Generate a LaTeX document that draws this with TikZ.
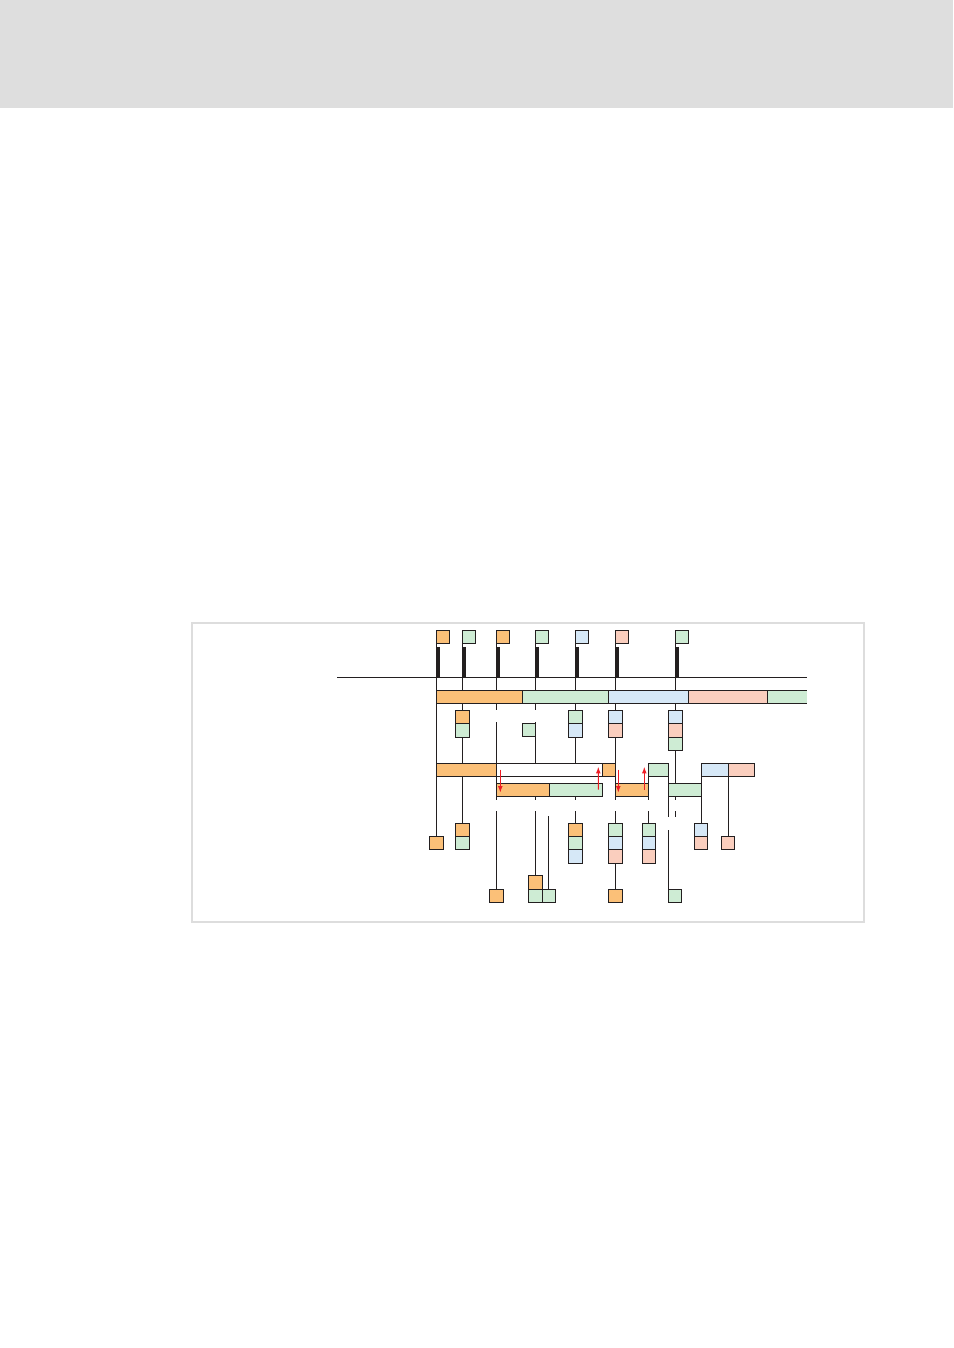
\documentclass[tikz,border=0pt]{standalone}
\usepackage{xcolor}
\usepackage{tikz}
\usetikzlibrary{arrows.meta,positioning,calc,fit}

\definecolor{ink}{RGB}{35,31,32}
\definecolor{orng}{RGB}{251,192,120}
\definecolor{grn}{RGB}{206,236,212}
\definecolor{blu}{RGB}{214,232,247}
\definecolor{pnk}{RGB}{250,206,190}
\definecolor{hdr}{RGB}{222,222,222}
\definecolor{frm}{RGB}{221,221,221}
\definecolor{arr}{RGB}{237,28,36}

\begin{document}
\begin{tikzpicture}[
    x=0.75pt, y=-0.75pt,
    cell/.style={draw=ink, line width=0.75pt, minimum width=10pt, minimum height=10pt, inner sep=0pt, outer sep=0pt},
    seg/.style={draw=ink, line width=0.75pt, inner sep=0pt, outer sep=0pt},
    wire/.style={draw=ink, line width=0.75pt},
    bar/.style={draw=ink, line width=2.6pt},
    flow/.style={-{Latex[length=5pt,width=3.6pt]}, draw=arr, line width=0.8pt}
]
\useasboundingbox (0,0) rectangle (953,1348);

% Header band and frame
\fill[hdr] (0,0) rectangle (953,108);
\draw[frm, line width=1.5pt] (192,623) rectangle (864,922);

% Gap levels
\coordinate (gapA) at (0,710);
\coordinate (gapB) at (0,722);
\coordinate (gapC) at (0,800);
\coordinate (gapD) at (0,811);
\coordinate (gapE) at (0,817);
\coordinate (gapF) at (0,830);
\coordinate (gapG) at (0,816);

% Axis
\coordinate (axL) at (337,677);
\coordinate (axR) at (806.7,677);
\draw[wire] (axL) -- (axR);

% Top markers
\node[cell, fill=orng] (t1) at (443.2,637.3) {};
\node[cell, fill=grn] (t2) at (469.2,637.3) {};
\node[cell, fill=orng] (t3) at (503.2,637.3) {};
\node[cell, fill=grn] (t4) at (542.2,637.3) {};
\node[cell, fill=blu] (t5) at (582.2,637.3) {};
\node[cell, fill=pnk] (t6) at (622.2,637.3) {};
\node[cell, fill=grn] (t7) at (682.2,637.3) {};

% Row 1
\node[seg, fill=orng, fit={(436.5,690.3) (522.3,703.3)}] (r1a) {};
\node[seg, fill=grn, fit={(522.3,690.3) (608.7,703.3)}] (r1b) {};
\node[seg, fill=blu, fit={(608.7,690.3) (688.7,703.3)}] (r1c) {};
\node[seg, fill=pnk, fit={(688.7,690.3) (767.3,703.3)}] (r1d) {};
\node[seg, draw=none, fill=grn, fit={(767.3,690.3) (806.7,703.3)}] (r1e) {};
\draw[wire] (r1e.north east) -- (r1e.north west) -- (r1e.south west) -- (r1e.south east);

% Row 2
\node[cell, fill=orng] (s2a) at (462.5,717) {};
\node[cell, fill=grn, below=0pt of s2a] (s2b) {};
\node[cell, fill=grn] (s4) at (528.8,730.3) {};
\node[cell, fill=grn] (s5a) at (575.5,717) {};
\node[cell, fill=blu, below=0pt of s5a] (s5b) {};
\node[cell, fill=blu] (s6a) at (615.5,717) {};
\node[cell, fill=pnk, below=0pt of s6a] (s6b) {};
\node[cell, fill=blu] (s7a) at (675.5,717) {};
\node[cell, fill=pnk, below=0pt of s7a] (s7b) {};
\node[cell, fill=grn, below=0pt of s7b] (s7c) {};

% Row 3
\node[seg, fill=orng, fit={(436.5,763.3) (496.5,776)}] (r3a) {};
\node[seg, fill=white, fit={(496.5,763.3) (602.7,776)}] (r3b) {};
\node[seg, fill=orng, fit={(602.7,763.3) (615.5,776)}] (r3c) {};
\node[seg, fill=grn, fit={(648.7,763.3) (668.3,776)}] (r3d) {};
\node[seg, fill=blu, fit={(701.3,763.3) (728.3,776)}] (r3e) {};
\node[seg, fill=pnk, fit={(728.3,763.3) (754.3,776)}] (r3f) {};

% Row 4
\node[seg, fill=orng, fit={(496.5,783.3) (549.3,796)}] (r4a) {};
\node[seg, fill=grn, fit={(549.3,783.3) (602.3,796)}] (r4b) {};
\node[seg, fill=orng, fit={(615.5,783.3) (648.7,796)}] (r4c) {};
\node[seg, fill=grn, fit={(668.3,783.3) (701.3,796)}] (r4d) {};

% Row 5
\node[cell, fill=orng] (u1) at (436.5,843.1) {};
\node[cell, fill=orng] (u2a) at (462.5,829.8) {};
\node[cell, fill=grn, below=0pt of u2a] (u2b) {};
\node[cell, fill=orng] (u5a) at (575.5,829.8) {};
\node[cell, fill=grn, below=0pt of u5a] (u5b) {};
\node[cell, fill=blu, below=0pt of u5b] (u5c) {};
\node[cell, fill=grn] (u6a) at (615.5,829.8) {};
\node[cell, fill=blu, below=0pt of u6a] (u6b) {};
\node[cell, fill=pnk, below=0pt of u6b] (u6c) {};
\node[cell, fill=grn] (u7a) at (648.7,829.8) {};
\node[cell, fill=blu, below=0pt of u7a] (u7b) {};
\node[cell, fill=pnk, below=0pt of u7b] (u7c) {};
\node[cell, fill=blu] (u8a) at (701.3,829.8) {};
\node[cell, fill=pnk, below=0pt of u8a] (u8b) {};
\node[cell, fill=pnk] (u9) at (728.3,843.1) {};

% Row 6
\node[cell, fill=orng] (v1) at (496.5,895.8) {};
\node[cell, fill=orng] (v2a) at (535.5,882.5) {};
\node[cell, fill=grn, below=0pt of v2a] (v2b) {};
\node[cell, fill=grn, right=0pt of v2b] (v2c) {};
\node[cell, fill=orng] (v3) at (615.5,895.8) {};
\node[cell, fill=grn] (v4) at (675.2,895.8) {};

% Marker lines
\draw[wire] (t1.south west) -- (t1.south west |- r1a.north);
\draw[wire] (t2.south west) -- (t2.south west |- r1a.north);
\draw[wire] (t3.south west) -- (t3.south west |- r1a.north);
\draw[wire] (t4.south west) -- (t4.south west |- r1a.north);
\draw[wire] (t5.south west) -- (t5.south west |- r1b.north);
\draw[wire] (t6.south west) -- (t6.south west |- r1c.north);
\draw[wire] (t7.south west) -- (t7.south west |- r1c.north);
\draw[bar] ($(t1.south west)+(1.8,3)$) -- ($(t1.south west |- axL)+(1.8,0)$);
\draw[bar] ($(t2.south west)+(1.8,3)$) -- ($(t2.south west |- axL)+(1.8,0)$);
\draw[bar] ($(t3.south west)+(1.8,3)$) -- ($(t3.south west |- axL)+(1.8,0)$);
\draw[bar] ($(t4.south west)+(1.8,3)$) -- ($(t4.south west |- axL)+(1.8,0)$);
\draw[bar] ($(t5.south west)+(1.8,3)$) -- ($(t5.south west |- axL)+(1.8,0)$);
\draw[bar] ($(t6.south west)+(1.8,3)$) -- ($(t6.south west |- axL)+(1.8,0)$);
\draw[bar] ($(t7.south west)+(1.8,3)$) -- ($(t7.south west |- axL)+(1.8,0)$);

% Column 1
\draw[wire] (r1a.south west) -- (r3a.north west);
\draw[wire] (r3a.south west) -- (u1.north);
% Column 2
\draw[wire] (s2a.north |- r1a.south) -- (s2a.north);
\draw[wire] (s2b.south) -- (s2b.south |- r3a.north);
\draw[wire] (s2b.south |- r3a.south) -- (u2a.north);
% Column 3
\draw[wire] (r3a.north east |- r1a.south) -- (r3a.north east |- gapA);
\draw[wire] (r3a.north east |- gapB) -- (r3a.north east);
\draw[wire] (r3a.south east) -- (r4a.north west);
\draw[wire] (r4a.south west) -- (r4a.south west |- gapC);
\draw[wire] (v1.north |- gapD) -- (v1.north);
% Column 4
\draw[wire] (s4.east |- r1a.south) -- (s4.east |- gapA);
\draw[wire] (s4.east |- gapB) -- (s4.east |- r3b.north);
\draw[wire] (s4.east |- r4a.south) -- (s4.east |- gapC);
\draw[wire] (v2a.north |- gapD) -- (v2a.north);
\draw[wire] (v2c.north |- gapG) -- (v2c.north);
% Column 5
\draw[wire] (s5a.north |- r1b.south) -- (s5a.north);
\draw[wire] (s5b.south) -- (s5b.south |- r3b.north);
\draw[wire] (s5b.south |- r4b.south) -- (s5b.south |- gapC);
\draw[wire] (u5a.north |- gapD) -- (u5a.north);
% Column 6
\draw[wire] (s6a.north |- r1c.south) -- (s6a.north);
\draw[wire] (s6b.south) -- (r3c.north east);
\draw[wire] (r3c.south east) -- (r4c.north west);
\draw[wire] (r4c.south west) -- (r4c.south west |- gapC);
\draw[wire] (u6a.north |- gapD) -- (u6a.north);
\draw[wire] (u6c.south) -- (v3.north);
\draw[wire] (r3d.south west) -- (r4c.north east);
\draw[wire] (r4c.south east) -- (r4c.south east |- gapC);
\draw[wire] (u7a.north |- gapD) -- (u7a.north);
% Column 7
\draw[wire] (s7a.north |- r1c.south) -- (s7a.north);
\draw[wire] (s7c.south) -- (s7c.south |- r4d.north);
\draw[wire] (s7c.south |- r4d.south) -- (s7c.south |- gapC);
\draw[wire] (s7c.south |- gapD) -- (s7c.south |- gapE);
\draw[wire] (r3d.south east) -- (r3d.south east |- gapE);
\draw[wire] (v4.north west |- gapF) -- (v4.north west);
\draw[wire] (r3e.south west) -- (u8a.north);
\draw[wire] (r3f.south west) -- (u9.north);

% Transfers
\draw[flow] ($(r3b.west)+(3.8,0)$) -- ($(r4a.south west)+(3.8,-3.3)$);
\draw[flow] ($(r4b.east)+(-4,0)$) -- ($(r3b.north east)+(-4.4,3.4)$);
\draw[flow] ($(r4c.north west |- r3c.east)+(2.8,0)$) -- ($(r4c.south west)+(2.8,-3.3)$);
\draw[flow] ($(r4c.east)+(-4.4,0)$) -- ($(r3d.north west)+(-4.4,3.4)$);

\end{tikzpicture}
\end{document}
